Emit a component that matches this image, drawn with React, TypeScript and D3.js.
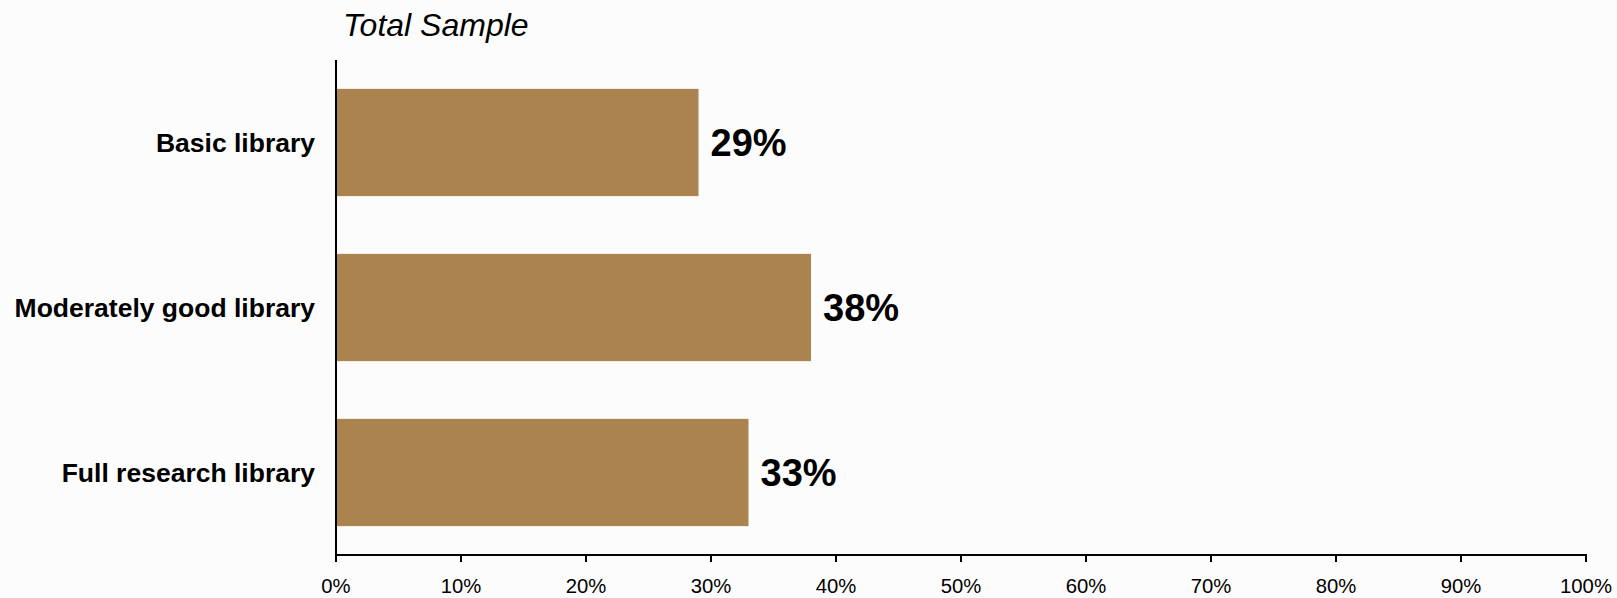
import React from "react";
import * as d3 from "d3";

const categories = ["Basic library", "Moderately good library", "Full research library"];
const values = [29, 38, 33];
const tickValues = [0, 10, 20, 30, 40, 50, 60, 70, 80, 90, 100];
const title = "Total Sample";

const W = 1617;
const H = 598;
const margin = { left: 336, right: 31, top: 60, bottom: 43 };
const FONT = "Liberation Sans, Arial, Helvetica, sans-serif";

export default function App() {
  const x = d3.scaleLinear().domain([0, 100]).range([margin.left, W - margin.right]);
  const y = d3
    .scaleBand<string>()
    .domain(categories)
    .range([margin.top, H - margin.bottom])
    .paddingInner(0.35)
    .paddingOuter(0.175);
  const axisY = H - margin.bottom;

  return (
    <svg
      width={W}
      height={H}
      style={{ position: "absolute", left: 0, top: 0, background: "#fcfcfc" }}
    >
      <rect x={0} y={0} width={W} height={H} fill="#fcfcfc" />
      <text x={343} y={36} fontFamily={FONT} fontStyle="italic" fontSize={32} fill="#000">
        {title}
      </text>
      {categories.map((c, i) => {
        const yy = y(c)!;
        const cy = yy + y.bandwidth() / 2;
        return (
          <g key={c}>
            <rect
              x={x(0)}
              y={yy}
              width={x(values[i]) - x(0)}
              height={y.bandwidth()}
              fill="#aa834f"
            />
            <text
              x={x(values[i]) + 12}
              y={cy + 13.5}
              fontFamily={FONT}
              fontWeight="bold"
              fontSize={38}
              fill="#000"
            >
              {values[i]}%
            </text>
            <text
              x={315}
              y={cy + 9.5}
              textAnchor="end"
              fontFamily={FONT}
              fontWeight="bold"
              fontSize={26.5}
              fill="#000"
            >
              {c}
            </text>
          </g>
        );
      })}
      <line x1={x(0)} x2={x(0)} y1={margin.top} y2={axisY} stroke="#000" strokeWidth={2} />
      <line x1={x(0) - 1} x2={x(100) + 1} y1={axisY} y2={axisY} stroke="#000" strokeWidth={2} />
      {tickValues.map((t) => (
        <g key={t}>
          <line x1={x(t)} x2={x(t)} y1={axisY} y2={axisY + 7} stroke="#000" strokeWidth={2} />
          <text
            x={x(t)}
            y={593}
            textAnchor="middle"
            fontFamily={FONT}
            fontSize={20.3}
            fill="#000"
          >
            {t}%
          </text>
        </g>
      ))}
    </svg>
  );
}
